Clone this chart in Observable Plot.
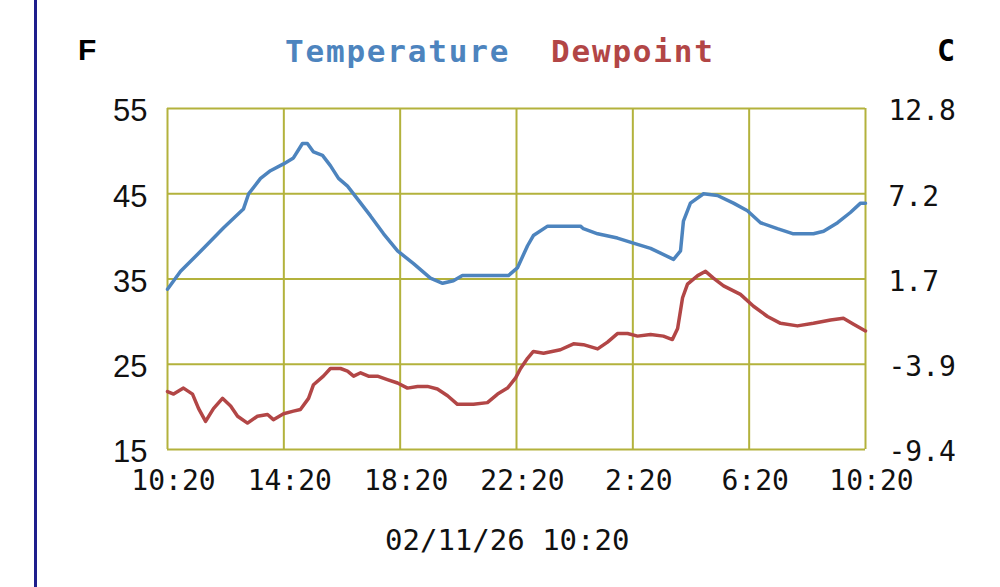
<!DOCTYPE html>
<html><head><meta charset="utf-8">
<script src="https://cdn.jsdelivr.net/npm/d3@7"></script>
<script src="https://cdn.jsdelivr.net/npm/@observablehq/plot@0.6"></script>
<style>
html,body{margin:0;padding:0;background:#fff;}
#wrap{position:relative;width:1000px;height:587px;overflow:hidden;background:#fff;}
#chart{position:absolute;left:0;top:0;}
#bar{position:absolute;left:34px;top:0;width:3px;height:587px;background:#1e1e8c;}
.t{position:absolute;white-space:nowrap;line-height:1;}
#tf{left:78px;top:33px;font:bold 30px "Liberation Sans";color:#000;}
#tc{left:937px;top:33px;font:bold 30px "DejaVu Sans Mono";color:#000;}
#tt{left:285px;top:33px;font:bold 31px "DejaVu Sans Mono";letter-spacing:1.8px;color:#4d84be;}
#td{left:551px;top:33px;font:bold 31px "DejaVu Sans Mono";letter-spacing:1.8px;color:#b24646;}
#tb{left:385px;top:523px;font:29px "DejaVu Sans Mono";color:#111;}
</style></head><body>
<div id="wrap">
<div id="chart"></div>
<div id="bar"></div>
<div class="t" id="tf">F</div>
<div class="t" id="tt">Temperature</div>
<div class="t" id="td">Dewpoint</div>
<div class="t" id="tc">C</div>
<div class="t" id="tb">02/11/26 10:20</div>
</div>
<script>
// hours since 10:20 on 02/10/26
const hoursT = [0.00,0.45,1.24,1.93,2.61,2.79,3.20,3.54,3.99,4.33,4.64,4.81,5.02,5.33,5.60,5.88,6.19,6.53,6.98,7.43,7.91,8.46,9.04,9.46,9.83,10.14,11.72,12.03,12.38,12.58,13.07,14.20,14.30,14.79,15.47,16.02,16.61,17.40,17.64,17.74,17.98,18.43,18.91,19.46,19.94,20.39,20.97,21.52,22.21,22.56,23.04,23.48,23.83,24.00];
const tempF = [33.8,35.9,38.6,41.0,43.2,45.0,46.8,47.7,48.5,49.2,50.9,50.9,49.9,49.5,48.3,46.8,45.9,44.4,42.4,40.3,38.3,36.8,35.1,34.5,34.8,35.4,35.4,36.3,38.9,40.1,41.2,41.2,40.9,40.3,39.8,39.2,38.6,37.3,38.3,41.8,43.9,45.0,44.8,43.9,43.0,41.6,40.9,40.3,40.3,40.6,41.6,42.8,43.9,43.9];
const hoursD = [0.00,0.21,0.55,0.86,1.07,1.31,1.58,1.89,2.17,2.41,2.75,3.09,3.44,3.64,3.99,4.33,4.57,4.85,5.02,5.36,5.60,5.95,6.19,6.40,6.64,6.91,7.22,7.56,7.91,8.25,8.60,8.94,9.28,9.63,9.97,10.52,11.00,11.35,11.69,11.97,12.14,12.38,12.58,12.93,13.51,13.96,14.30,14.79,15.13,15.47,15.82,16.16,16.61,17.05,17.36,17.54,17.71,17.88,18.23,18.50,18.77,19.12,19.70,20.15,20.63,21.08,21.66,22.21,22.80,23.24,23.59,24.00];
const dewF = [21.8,21.5,22.2,21.5,19.8,18.3,19.8,21.0,20.1,18.9,18.1,18.9,19.1,18.5,19.2,19.5,19.7,21.0,22.6,23.6,24.5,24.5,24.2,23.6,24.0,23.6,23.6,23.2,22.8,22.2,22.4,22.4,22.1,21.3,20.3,20.3,20.5,21.5,22.2,23.4,24.5,25.7,26.5,26.3,26.7,27.4,27.3,26.8,27.6,28.6,28.6,28.3,28.5,28.3,27.9,29.2,32.8,34.4,35.4,35.9,35.1,34.2,33.2,31.8,30.6,29.8,29.5,29.8,30.2,30.4,29.7,28.9];
const xTicks = [0,4,8,12,16,20,24];
const xLabels = ["10:20","14:20","18:20","22:20","2:20","6:20","10:20"];
const fTicks = [15,25,35,45,55];
const fLabels = ["15","25","35","45","55"];
const cLabels = ["-9.4","-3.9","1.7","7.2","12.8"];

const GRID = "#b3b23c", BLUE = "#4d84be", RED = "#b24646";
const temp = hoursT.map((h,i)=>({h, v: tempF[i]}));
const dew = hoursD.map((h,i)=>({h, v: dewF[i]}));

const plot = Plot.plot({
  width: 1000, height: 587,
  marginLeft: 167, marginRight: 135, marginTop: 108, marginBottom: 138,
  style: {fontFamily: "DejaVu Sans Mono", fontSize: "28px", background: "transparent", color: "#111"},
  x: {domain: [0, 24]},
  y: {domain: [15, 55]},
  marks: [
    Plot.gridX(xTicks, {stroke: GRID, strokeOpacity: 1, strokeWidth: 2}),
    Plot.gridY(fTicks, {stroke: GRID, strokeOpacity: 1, strokeWidth: 2}),
    Plot.line(temp, {x: "h", y: "v", stroke: BLUE, strokeWidth: 3.5}),
    Plot.line(dew, {x: "h", y: "v", stroke: RED, strokeWidth: 3.5}),
    Plot.axisX(xTicks, {tickSize: 0, tickPadding: 21, dx: 6, label: null,
      tickFormat: d => xLabels[xTicks.indexOf(d)], fontFamily: "DejaVu Sans Mono", fontSize: 28}),
    Plot.axisY(fTicks, {anchor: "left", tickSize: 0, tickPadding: 20, dy: 3, label: null,
      tickFormat: d => fLabels[fTicks.indexOf(d)], fontFamily: "Liberation Sans", fontSize: 31}),
    Plot.axisY(fTicks, {anchor: "right", tickSize: 0, tickPadding: 23, dy: 3, label: null,
      tickFormat: d => cLabels[fTicks.indexOf(d)], fontFamily: "DejaVu Sans Mono", fontSize: 28})
  ]
});
document.getElementById("chart").appendChild(plot);
</script>
</body></html>
